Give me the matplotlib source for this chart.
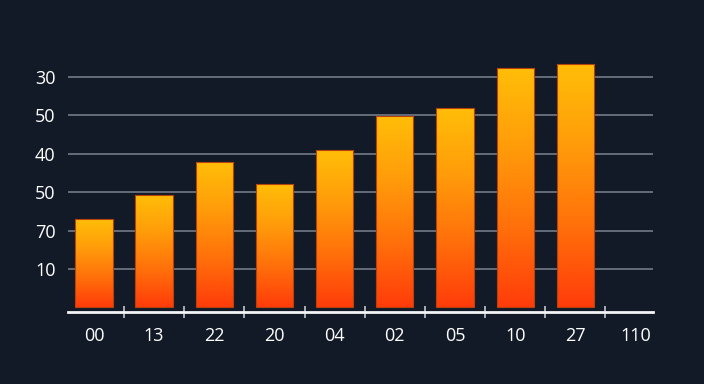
import numpy as np
import matplotlib
matplotlib.use("Agg")
import matplotlib.pyplot as plt
from matplotlib.colors import LinearSegmentedColormap

# data
categories = ['00', '13', '22', '20', '04', '02', '05', '10', '27', '110']
values = [23.0, 29.3, 37.9, 32.2, 41.0, 49.9, 52.0, 62.4, 63.4]   # last category has no bar
ytick_vals = [10, 20, 30, 40, 50, 60]
ytick_labels = ['10', '70', '50', '40', '50', '30']

BG = '#131a27'
plt.rcParams['font.family'] = ['Open Sans', 'DejaVu Sans']

fig = plt.figure(figsize=(7.04, 3.84), dpi=100, facecolor=BG)
ax = fig.add_axes([0.0966, 0.1875, 0.831, 0.682], facecolor=BG)

xs = np.arange(len(values))
bars = ax.bar(xs, values, width=0.62, color='none', edgecolor='#b8420c',
              linewidth=0.8, zorder=3)

grad = LinearSegmentedColormap.from_list('bar', ['#ff3c0a', '#ff700a', '#ff9c0a', '#ffbe08'])
g = np.linspace(0, 1, 256).reshape(-1, 1)
for b in bars:
    x0, y0 = b.get_x(), b.get_y()
    im = ax.imshow(g, cmap=grad, origin='lower', aspect='auto', zorder=2,
                   extent=[x0, x0 + b.get_width(), y0, y0 + b.get_height()])
    im.set_clip_path(b)

ax.set_xlim(-0.43, 9.29)
ax.set_ylim(-1.2, 67)

ax.set_yticks(ytick_vals)
ax.set_yticklabels(ytick_labels)
ax.yaxis.grid(True, color='#6b7280', linewidth=1.3, zorder=0)
ax.tick_params(axis='y', length=0, pad=9, labelcolor='white', labelsize=13)

ax.set_xticks(np.arange(len(categories)))
ax.set_xticklabels(categories)
ax.tick_params(axis='x', which='major', length=0, pad=11, labelcolor='white', labelsize=13)
ax.set_xticks(np.arange(len(categories)) - 0.5, minor=True)
ax.tick_params(axis='x', which='minor', direction='inout', length=9, width=1.1, color='#d1d5db')

for s in ['top', 'right', 'left']:
    ax.spines[s].set_visible(False)
ax.spines['bottom'].set_color('#f3f4f6')
ax.spines['bottom'].set_linewidth(2)

ax.set_xlim(-0.43, 9.29)
fig.savefig('out.png', dpi=100, facecolor=BG)
